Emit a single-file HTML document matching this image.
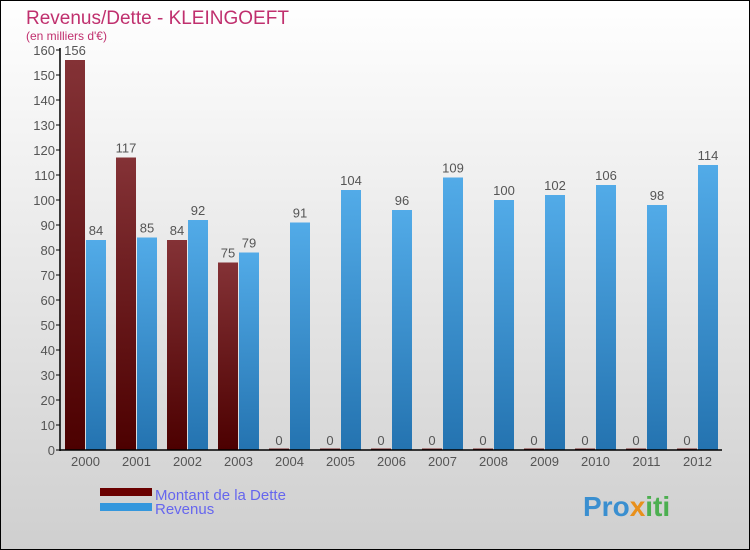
<!DOCTYPE html>
<html><head><meta charset="utf-8"><style>
body{margin:0}
svg{display:block;font-family:"Liberation Sans",sans-serif}
</style></head><body>
<svg id="c" width="750" height="550" viewBox="0 0 750 550">
<defs>
<linearGradient id="bg" x1="0" y1="0" x2="0" y2="1"><stop offset="0" stop-color="#ffffff"/><stop offset="1" stop-color="#cfcfcf"/></linearGradient>
<linearGradient id="gr" x1="0" y1="0" x2="0" y2="1"><stop offset="0" stop-color="#843236"/><stop offset="1" stop-color="#4c0000"/></linearGradient>
<linearGradient id="gb" x1="0" y1="0" x2="0" y2="1"><stop offset="0" stop-color="#52abe8"/><stop offset="1" stop-color="#2473b0"/></linearGradient>
</defs>
<rect x="0.5" y="0.5" width="749" height="549" fill="url(#bg)" stroke="#000"/>
<text x="26" y="24" font-size="19" fill="#c0306e">Revenus/Dette - KLEINGOEFT</text>
<text x="26" y="40" font-size="12" fill="#c0306e">(en milliers d'€)</text>
<g id="plot"></g>
<rect x="100" y="488" width="52" height="8" fill="#6a0000"/>
<rect x="100" y="503" width="52" height="8" fill="#3497dd"/>
<text x="155" y="500" font-size="15" fill="#6666ee">Montant de la Dette</text>
<text x="155" y="514" font-size="15" fill="#6666ee">Revenus</text>
<text x="583" y="516" font-size="28" font-weight="bold" fill="#3a8fd0">Pro<tspan fill="#e8901c">x</tspan><tspan fill="#4caf50">iti</tspan></text>
</svg>
<script>
const years=["2000","2001","2002","2003","2004","2005","2006","2007","2008","2009","2010","2011","2012"];
const debt=[156,117,84,75,0,0,0,0,0,0,0,0,0];
const revenue=[84,85,92,79,91,104,96,109,100,102,106,98,114];
const ticks=[0,10,20,30,40,50,60,70,80,90,100,110,120,130,140,150,160];
const NS="http://www.w3.org/2000/svg";
const g=document.getElementById('plot');
const y0=450,x0=60,step=51;
const yS=v=>y0-v*2.5;
const xC=i=>x0+25.5+i*step;
function mk(t,a,txt){const e=document.createElementNS(NS,t);for(const k in a)e.setAttribute(k,a[k]);if(txt!==undefined)e.textContent=txt;g.appendChild(e);return e;}
ticks.forEach(t=>{
 const l=mk('line',{x1:x0-4,x2:x0,y1:yS(t),y2:yS(t),stroke:'#000'});
 
 
 const tx=mk('text',{x:x0-5,y:yS(t)+5,'font-size':13,fill:'#555','text-anchor':'end'},t);
 
 
});
years.forEach((yr,i)=>{
 const c=xC(i);
 const d=debt[i],r=revenue[i];
 const b1=mk('rect',{x:c-20.5,y:yS(d)-(d?0:1.5),width:20,height:Math.max(d*2.5,1.5),fill:'url(#gr)'});
 
 
 const b2=mk('rect',{x:c+0.5,y:yS(r),width:20,height:r*2.5,fill:'url(#gb)'});
 
 
 const l1=mk('text',{x:c-10.5,y:yS(d)-5,'font-size':13,fill:'#555','text-anchor':'middle'},d);
 
 
 const l2=mk('text',{x:c+10.5,y:yS(r)-5,'font-size':13,fill:'#555','text-anchor':'middle'},r);
 
 
 const xl=mk('text',{x:c,y:y0+16,'font-size':13,fill:'#555','text-anchor':'middle'},yr);
 
 
});
const ya=mk('line',{x1:x0,x2:x0,y1:48,y2:y0+1,stroke:'#000','stroke-width':1.5});


const xa=mk('line',{x1:x0,x2:722,y1:y0,y2:y0,stroke:'#000','stroke-width':1.5});


</script>
</body></html>
